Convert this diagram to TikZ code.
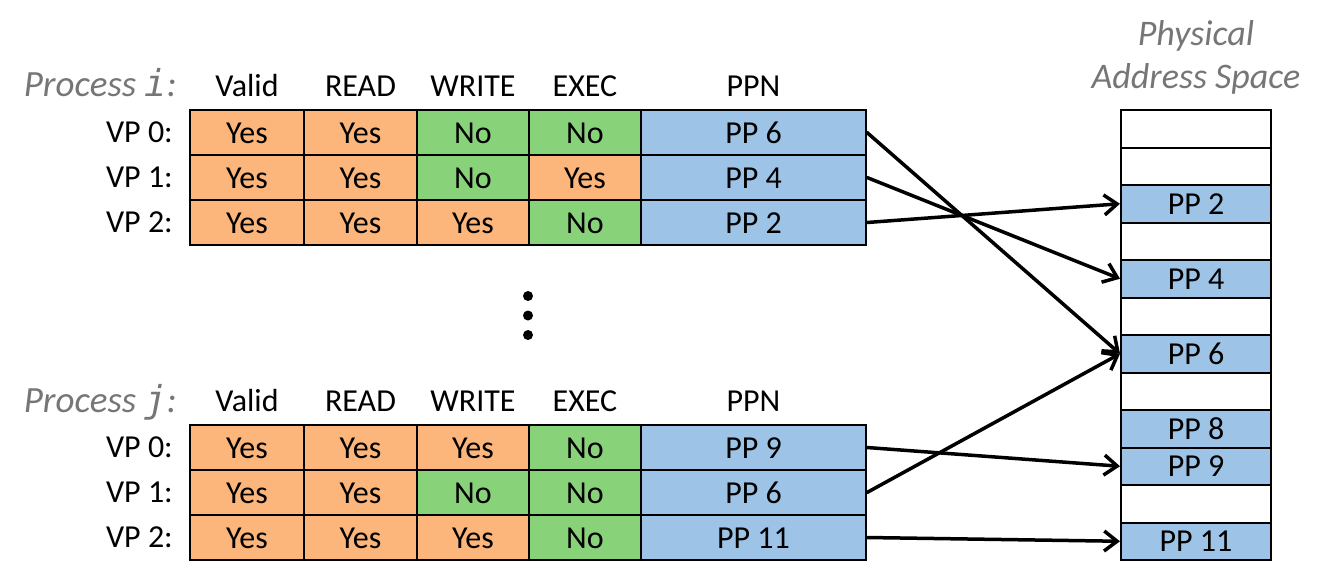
\documentclass[tikz,border=0pt]{standalone}
\usepackage{fontspec}
\setmainfont{Carlito}
\newfontfamily\monofnt{DejaVu Sans Mono}
\usetikzlibrary{arrows.meta}
\definecolor{yescol}{RGB}{252,181,122}
\definecolor{nocol}{RGB}{136,210,122}
\definecolor{ppcol}{RGB}{157,195,230}
\definecolor{titlegray}{RGB}{118,118,118}
\tikzset{
  cell/.style={draw=black, line width=2pt, inner sep=0pt, minimum height=45pt,
    text height=21pt, text depth=0pt, font=\fontsize{32}{38}\selectfont},
  yesc/.style={cell, fill=yescol},
  noc/.style={cell, fill=nocol},
  ppc/.style={cell, fill=ppcol, minimum width=225pt},
  mem/.style={draw=black, line width=2pt, inner sep=0pt, minimum width=150pt, minimum height=37.5pt,
    text height=21pt, text depth=0pt, font=\fontsize{32}{38}\selectfont},
  memfull/.style={mem, fill=ppcol},
  hdr/.style={anchor=base, inner sep=0pt, font=\fontsize{32}{38}\selectfont},
  vplab/.style={anchor=base east, inner sep=0pt, font=\fontsize{32}{38}\selectfont},
  proclab/.style={anchor=base east, inner sep=0pt, text=titlegray, font=\fontsize{37}{44}\selectfont\itshape},
  memtitle/.style={anchor=base, inner sep=0pt, text=titlegray, font=\fontsize{36}{43}\selectfont\itshape},
  link/.style={line width=3.5pt, line cap=round, -{Straight Barb[length=13pt,width=20pt,line width=3.5pt]}},
  dot/.style={circle, fill=black, inner sep=0pt, minimum size=10pt}
}
\begin{document}
\begin{tikzpicture}[x=1pt,y=-1pt]
\useasboundingbox (0,0) rectangle (1328,582);
% ---- Process i ----
\node[proclab] (proci) at (177,96) {Process {\monofnt\itshape i}:};
\node[hdr] (hi0) at (247,96) {Valid};
\node[hdr] (hi1) at (360.5,96) {READ};
\node[hdr] (hi2) at (473,96) {WRITE};
\node[hdr] (hi3) at (585,96) {EXEC};
\node[hdr] (hi4) at (753.5,96) {PPN};
\foreach \r/\y/\sa/\ta/\sb/\tb/\sc/\tc/\sd/\td/\p in {
  0/132.5/yesc/Yes/yesc/Yes/noc/No/noc/No/6,
  1/177.5/yesc/Yes/yesc/Yes/noc/No/yesc/Yes/4,
  2/222.5/yesc/Yes/yesc/Yes/yesc/Yes/noc/No/2}{
  \node[vplab] (ivp\r) at (173,\y+10) {VP \r:};
  \node[\sa, minimum width=114pt] (i\r c0) at (247,\y) {\ta};
  \node[\sb, minimum width=113pt] (i\r c1) at (360.5,\y) {\tb};
  \node[\sc, minimum width=112pt] (i\r c2) at (473,\y) {\tc};
  \node[\sd, minimum width=112pt] (i\r c3) at (585,\y) {\td};
  \node[ppc] (ipp\r) at (753.5,\y) {PP \p};
}
% ---- dots ----
\node[dot] (d1) at (528,296) {};
\node[dot] (d2) at (528,315.5) {};
\node[dot] (d3) at (528,335) {};
% ---- Process j ----
\node[proclab] (procj) at (177,412) {Process {\monofnt\itshape j}:};
\node[hdr] (hj0) at (247,411) {Valid};
\node[hdr] (hj1) at (360.5,411) {READ};
\node[hdr] (hj2) at (473,411) {WRITE};
\node[hdr] (hj3) at (585,411) {EXEC};
\node[hdr] (hj4) at (753.5,411) {PPN};
\foreach \r/\y/\sa/\ta/\sb/\tb/\sc/\tc/\sd/\td/\p in {
  0/447.5/yesc/Yes/yesc/Yes/yesc/Yes/noc/No/9,
  1/492.5/yesc/Yes/yesc/Yes/noc/No/noc/No/6,
  2/537.5/yesc/Yes/yesc/Yes/yesc/Yes/noc/No/11}{
  \node[vplab] (jvp\r) at (173,\y+10) {VP \r:};
  \node[\sa, minimum width=114pt] (j\r c0) at (247,\y) {\ta};
  \node[\sb, minimum width=113pt] (j\r c1) at (360.5,\y) {\tb};
  \node[\sc, minimum width=112pt] (j\r c2) at (473,\y) {\tc};
  \node[\sd, minimum width=112pt] (j\r c3) at (585,\y) {\td};
  \node[ppc] (jpp\r) at (753.5,\y) {PP \p};
}
% ---- Physical address space ----
\node[memtitle] (mt1) at (1196,45) {Physical};
\node[memtitle] (mt2) at (1196,88) {Address Space};
\node[mem]     (m0)  at (1196,128.75) {};
\node[mem]     (m1)  at (1196,166.25) {};
\node[memfull] (m2)  at (1196,203.75) {PP 2};
\node[mem]     (m3)  at (1196,241.25) {};
\node[memfull] (m4)  at (1196,278.75) {PP 4};
\node[mem]     (m5)  at (1196,316.25) {};
\node[memfull] (m6)  at (1196,353.75) {PP 6};
\node[mem]     (m7)  at (1196,391.25) {};
\node[memfull] (m8)  at (1196,428.75) {PP 8};
\node[memfull] (m9)  at (1196,466.25) {PP 9};
\node[mem]     (m10) at (1196,503.75) {};
\node[memfull] (m11) at (1196,541.25) {PP 11};
% ---- mappings ----
\draw[link] (ipp0.east) -- (m6.west);
\draw[link] (ipp1.east) -- (m4.west);
\draw[link] (ipp2.east) -- (m2.west);
\draw[link] (jpp0.east) -- (m9.west);
\draw[link] (jpp1.east) -- (m6.west);
\draw[link] (jpp2.east) -- (m11.west);
\end{tikzpicture}
\end{document}
